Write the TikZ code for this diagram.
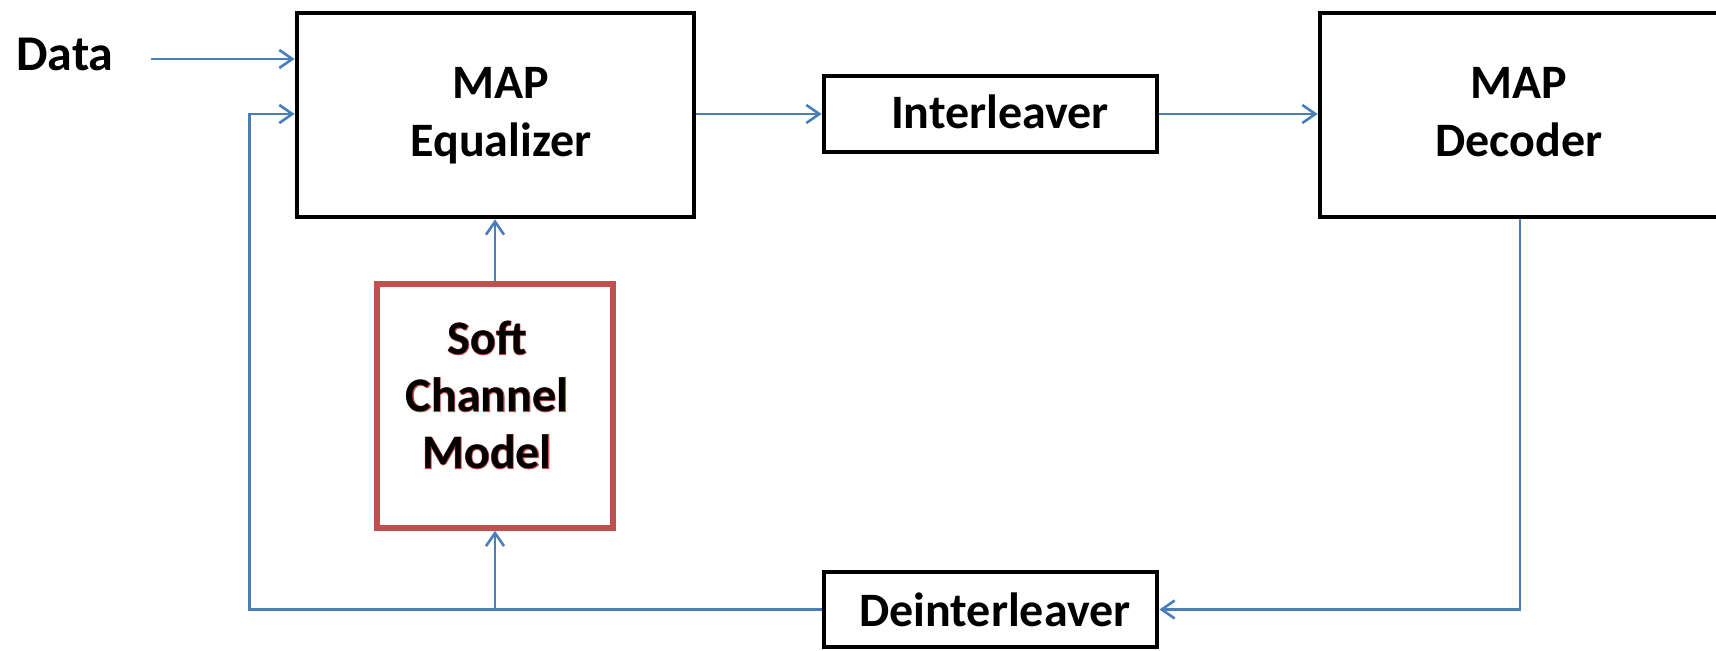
\documentclass[tikz,border=0pt]{standalone}
\usepackage{fontspec}
\setmainfont{Carlito}
\newfontfamily\outlfont{Carlito}[BoldFeatures={FakeBold=2.5}]
\usetikzlibrary{arrows.meta}
\definecolor{conn}{RGB}{74,126,187}
\definecolor{redbox}{RGB}{192,80,77}
\begin{document}
\begin{tikzpicture}[x=0.5pt,y=-0.5pt,
  blk/.style={draw=black, line width=2.4pt, inner sep=0pt},
  redblk/.style={draw=redbox, line width=2.8pt, inner sep=0pt},
  txt/.style={inner sep=0pt, align=center, font=\fontsize{24}{29}\selectfont\bfseries},
  softtxt/.style={inner sep=0pt, align=center, font=\fontsize{24}{28.5}\selectfont\bfseries},
  softred/.style={inner sep=0pt, align=center, text=redbox, font=\fontsize{24}{28.5}\selectfont\outlfont\bfseries},
  arr/.style={draw=conn, line width=1.3pt, -{Straight Barb[length=6.5pt,width=9pt]}}]
\clip (0,0) rectangle (1716,651);
\fill[white] (0,0) rectangle (1716,651);
% boxes
\node[blk, minimum width=198.5pt, minimum height=102pt] (eq) at (495.5,115) {};
\node[blk, minimum width=166.5pt, minimum height=38pt] (inter) at (990.5,114) {};
\node[blk, minimum width=200pt, minimum height=102pt] (dec) at (1520,115) {};
\node[redblk, minimum width=117.75pt, minimum height=122pt] (soft) at (495,406) {};
\node[blk, minimum width=166.5pt, minimum height=37.5pt] (deint) at (990.5,609.5) {};
% texts (base anchor = baseline of last line)
\node[txt, anchor=base, font=\fontsize{25}{29}\selectfont\bfseries] (datatxt) at (65,71) {Data};
\node[txt, anchor=base] (eqtxt) at (501,156.5) {MAP\\Equalizer};
\node[txt, anchor=base] (dectxt) at (1519,156.5) {MAP\\Decoder};
\node[txt, anchor=base] (intertxt) at (1000,129) {Interleaver};
\node[txt, anchor=base] (deinttxt) at (995,626) {Deinterleaver};
\node[softred, anchor=base] (softout) at (487,468.4) {Soft\\Channel\\Model};
\node[softtxt, anchor=base] (softlbl) at (487,468.4) {Soft\\Channel\\Model};
% connectors
\coordinate (dstart) at (151,59);
\coordinate (fbcorner) at (249.5,114);
\draw[arr] (dstart) -- (dstart -| eq.west);
\draw[arr] (deint.west) -| (fbcorner) -- (fbcorner -| eq.west);
\draw[arr] (deint.west -| soft.south) -- (soft.south);
\draw[arr] (soft.north) -- (soft.north |- eq.south);
\draw[arr] (eq.east |- inter.west) -- (inter.west);
\draw[arr] (inter.east) -- (inter.east -| dec.west);
\draw[arr] (dec.south) |- (deint.east);
\end{tikzpicture}
\end{document}
